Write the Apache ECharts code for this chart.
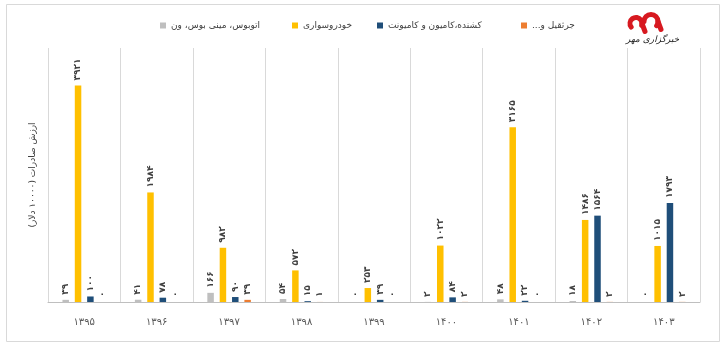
<!DOCTYPE html>
<html>
<head>
<meta charset="utf-8">
<script src="https://cdn.jsdelivr.net/npm/echarts@6/dist/echarts.min.js"></script>
<style>
html,body{margin:0;padding:0;background:#fff;}
#chart{width:720px;height:345px;}
</style>
</head>
<body>
<div id="chart"></div>
<script>
// Years (Solar Hijri) on the category axis
const years = ['۱۳۹۵', '۱۳۹۶', '۱۳۹۷', '۱۳۹۸', '۱۳۹۹', '۱۴۰۰', '۱۴۰۱', '۱۴۰۲', '۱۴۰۳'];

// Export value per vehicle group
const busValues     = [39, 41, 166, 54, 0, 2, 48, 18, 0];
const carValues     = [3921, 1984, 982, 572, 253, 1022, 3165, 1486, 1015];
const truckValues   = [100, 78, 90, 15, 39, 84, 22, 1564, 1793];
const craneValues   = [0, 0, 39, 1, 0, 2, 0, 2, 2];

const seriesNames = ['اتوبوس، مینی بوس، ون', 'خودروسواری', 'کشنده،کامیون و کامیونت', 'جرثقیل و...'];
const seriesColors = ['#bfbfbf', '#ffc000', '#1f4e79', '#ed7d31'];
const yAxisTitle = 'ارزش صادرات (۱۰۰۰۰ دلار)';

const FONT = 'DejaVu Sans';
const toFa = v => String(v).replace(/\d/g, d => '۰۱۲۳۴۵۶۷۸۹'[d]);
// right-to-left marks so neutral characters (dots, brackets) sit on the proper side
const rtl = s => '\u200F' + s + '\u200F';
const names = seriesNames.map(rtl);

const chart = echarts.init(document.getElementById('chart'), null, {renderer: 'canvas'});

const makeSeries = (name, data, color) => ({
  name: name,
  type: 'bar',
  data: data,
  barWidth: 6.5,
  barGap: '90%',
  itemStyle: {color: color},
  label: {
    show: true,
    position: 'top',
    rotate: 90,
    align: 'left',
    verticalAlign: 'middle',
    distance: 5,
    fontFamily: FONT,
    fontSize: 9,
    fontWeight: 'bold',
    color: '#404040',
    formatter: p => toFa(p.value)
  }
});

// one legend entry per component so each can be placed on its own
const legendLefts = [155, 287, 372, 516];
const legends = names.map((n, i) => ({
  top: 16,
  left: legendLefts[i],
  itemWidth: 6,
  itemHeight: 6,
  itemGap: 0,
  icon: 'rect',
  textStyle: {fontFamily: FONT, fontSize: 9, color: '#404040'},
  data: [n]
}));

const red = '#d71920';

chart.setOption({
  animation: false,
  backgroundColor: '#ffffff',
  textStyle: {fontFamily: FONT},
  legend: legends,
  grid: {left: 48, right: 20, top: 48, bottom: 43},
  xAxis: {
    type: 'category',
    data: years,
    axisLine: {show: true, lineStyle: {color: '#bfbfbf', width: 1}},
    axisTick: {show: false},
    splitLine: {show: true, lineStyle: {color: '#d9d9d9', width: 1}},
    axisLabel: {fontFamily: FONT, fontSize: 10, color: '#595959', margin: 15}
  },
  yAxis: {
    type: 'value',
    min: 0,
    max: 4600,
    interval: 4600,
    axisLine: {show: false},
    axisTick: {show: false},
    axisLabel: {show: false},
    splitLine: {show: false},
    name: rtl(yAxisTitle),
    nameLocation: 'middle',
    nameRotate: 90,
    nameGap: 11,
    nameTextStyle: {fontFamily: FONT, fontSize: 9, color: '#404040'}
  },
  series: [
    makeSeries(names[0], busValues, seriesColors[0]),
    makeSeries(names[1], carValues, seriesColors[1]),
    makeSeries(names[2], truckValues, seriesColors[2]),
    makeSeries(names[3], craneValues, seriesColors[3])
  ],
  graphic: [
    // chart frame
    {type: 'rect', left: 4, top: 2, z: -1,
     shape: {width: 713, height: 337}, style: {fill: 'none', stroke: '#d9d9d9', lineWidth: 1}},
    // news agency mark
    {type: 'group', left: 626, top: 12, children: [
      {type: 'arc', shape: {cx: 8, cy: 13, r: 6, startAngle: Math.PI * 0.8, endAngle: Math.PI * 2.1},
       style: {fill: 'none', stroke: red, lineWidth: 5, lineCap: 'round'}},
      {type: 'arc', shape: {cx: 23, cy: 11, r: 7, startAngle: Math.PI, endAngle: Math.PI * 2.2},
       style: {fill: 'none', stroke: red, lineWidth: 5, lineCap: 'round'}},
      {type: 'line', shape: {x1: 14, y1: 13, x2: 17, y2: 21},
       style: {stroke: red, lineWidth: 5, lineCap: 'round'}},
      {type: 'line', shape: {x1: 30, y1: 11, x2: 33, y2: 19},
       style: {stroke: red, lineWidth: 5, lineCap: 'round'}},
      {type: 'text', x: -2, y: 25,
       style: {text: 'خبرگزاری مهر', font: 'italic 9px "DejaVu Sans"', fill: '#222'}}
    ]}
  ]
});
</script>
</body>
</html>
